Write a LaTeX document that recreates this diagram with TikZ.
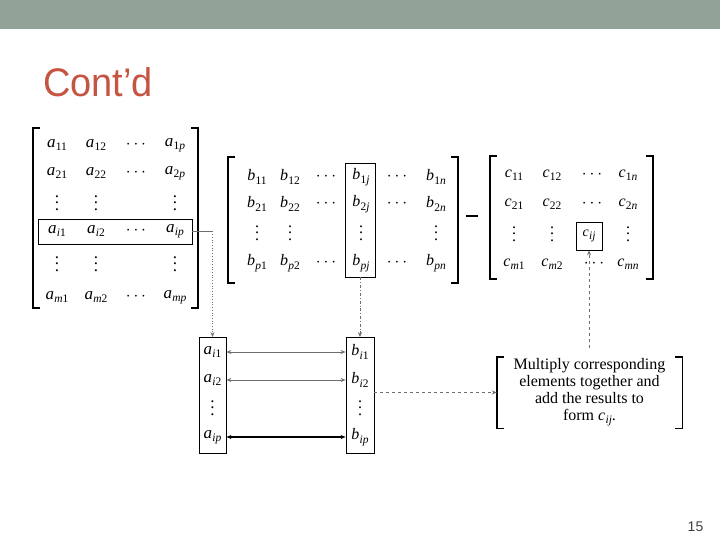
\documentclass[tikz,border=0pt]{standalone}
\usepackage{fontspec}
\setmainfont{Liberation Serif}
\newfontfamily\titlefont{Liberation Sans}
\usetikzlibrary{arrows.meta}
\definecolor{barcol}{RGB}{147,162,152}
\definecolor{titlecol}{RGB}{197,84,66}
\definecolor{numcol}{RGB}{64,64,64}
\definecolor{conncol}{RGB}{110,110,110}
\newcommand\ent[2]{\textit{#1}\kern0.3pt\raisebox{-3.5pt}{\fontsize{11.5}{12}\selectfont#2}}
\newcommand\myvdots{\vbox{\baselineskip6.5pt\lineskiplimit0pt\hbox{.}\hbox{.}\hbox{.}}}
\newcommand\mbrk[4]{%
  \draw[brk] (#1+7,#3) -- (#1,#3) -- (#1,#4) -- (#1+7,#4);
  \draw[brk] (#2-7,#3) -- (#2,#3) -- (#2,#4) -- (#2-7,#4);}
\begin{document}
\begin{tikzpicture}[x=1pt,y=-1pt,
  brk/.style={line width=1.4pt},
  mA/.style={inner sep=0.5pt, font=\fontsize{17}{20}\selectfont},
  mB/.style={inner sep=0.5pt, font=\fontsize{16}{19}\selectfont},
  boxstyle/.style={draw, line width=0.8pt, inner sep=0},
  conn/.style={draw=conncol, line width=0.7pt},
  tip/.style={-{Stealth[length=5pt,width=4pt]}},
  pair/.style={draw=conncol, line width=0.8pt, {Stealth[length=5pt,width=4pt]}-{Stealth[length=5pt,width=4pt]}}]
\useasboundingbox (0,0) rectangle (720,540);
\fill[barcol] (0,0) rectangle (720,29);
\node[anchor=base west, inner sep=0, text=titlecol, font=\titlefont\fontsize{38}{40}\selectfont] (title) at (43,97) {\scalebox{1}[1.05]{Cont’d}};
\node[font=\titlefont\fontsize{14}{16}\selectfont, text=numcol] (pnum) at (695.5,527) {15};

% ---------- matrix A ----------
\mbrk{33}{198}{128}{308}
\node[mA] (a11) at (57,145) {\ent{a}{11}};
\node[mA] (a12) at (96,145) {\ent{a}{12}};
\node[mA] (a1d) at (136,145) {$\cdots$};
\node[mA] (a1p) at (175,145) {\ent{a}{1\textit{p}}};
\node[mA] (a21) at (57,173) {\ent{a}{21}};
\node[mA] (a22) at (96,173) {\ent{a}{22}};
\node[mA] (a2d) at (136,173) {$\cdots$};
\node[mA] (a2p) at (175,173) {\ent{a}{2\textit{p}}};
\node[mA] (av1) at (57,203) {\myvdots};
\node[mA] (av2) at (96,203) {\myvdots};
\node[mA] (av3) at (175,203) {\myvdots};
\node[mA] (ai1r) at (57,231) {\ent{a}{\textit{i}1}};
\node[mA] (ai2r) at (96,231) {\ent{a}{\textit{i}2}};
\node[mA] (aidr) at (136,231) {$\cdots$};
\node[mA] (aipr) at (175,231) {\ent{a}{\textit{ip}}};
\node[mA] (aw1) at (57,264) {\myvdots};
\node[mA] (aw2) at (96,264) {\myvdots};
\node[mA] (aw3) at (175,264) {\myvdots};
\node[mA] (am1) at (57,297) {\ent{a}{\textit{m}1}};
\node[mA] (am2) at (96,297) {\ent{a}{\textit{m}2}};
\node[mA] (amd) at (136,297) {$\cdots$};
\node[mA] (amp) at (175,297) {\ent{a}{\textit{mp}}};
\node[boxstyle, minimum width=154pt, minimum height=25pt] (rowbox) at (115,231.5) {};

% ---------- matrix B ----------
\mbrk{228}{458}{157}{283}
\node[mB] (b11) at (257,177) {\ent{b}{11}};
\node[mB] (b12) at (290,177) {\ent{b}{12}};
\node[mB] (b1d) at (326,177) {$\cdots$};
\node[mB] (b1j) at (361,177) {\ent{b}{1\textit{j}}};
\node[mB] (b1e) at (397,177) {$\cdots$};
\node[mB] (b1n) at (436,177) {\ent{b}{1\textit{n}}};
\node[mB] (b21) at (257,204) {\ent{b}{21}};
\node[mB] (b22) at (290,204) {\ent{b}{22}};
\node[mB] (b2d) at (326,204) {$\cdots$};
\node[mB] (b2j) at (361,204) {\ent{b}{2\textit{j}}};
\node[mB] (b2e) at (397,204) {$\cdots$};
\node[mB] (b2n) at (436,204) {\ent{b}{2\textit{n}}};
\node[mB] (bv1) at (257,233) {\myvdots};
\node[mB] (bv2) at (290,233) {\myvdots};
\node[mB] (bv3) at (361,233) {\myvdots};
\node[mB] (bv4) at (436,233) {\myvdots};
\node[mB] (bp1) at (257,263) {\ent{b}{\textit{p}1}};
\node[mB] (bp2) at (290,263) {\ent{b}{\textit{p}2}};
\node[mB] (bpd) at (326,263) {$\cdots$};
\node[mB] (bpj) at (361,263) {\ent{b}{\textit{pj}}};
\node[mB] (bpe) at (397,263) {$\cdots$};
\node[mB] (bpn) at (436,263) {\ent{b}{\textit{pn}}};
\node[boxstyle, minimum width=30pt, minimum height=114pt] (bcolbox) at (360,220) {};

\draw[line width=1.5pt] (466,216) -- (478,216);

% ---------- matrix C ----------
\mbrk{490}{653}{156}{279}
\node[mB] (c11) at (514,175) {\ent{c}{11}};
\node[mB] (c12) at (552,175) {\ent{c}{12}};
\node[mB] (c1d) at (592,175) {$\cdots$};
\node[mB] (c1n) at (628,175) {\ent{c}{1\textit{n}}};
\node[mB] (c21) at (514,204) {\ent{c}{21}};
\node[mB] (c22) at (552,204) {\ent{c}{22}};
\node[mB] (c2d) at (592,204) {$\cdots$};
\node[mB] (c2n) at (628,204) {\ent{c}{2\textit{n}}};
\node[mB] (cv1) at (514,234) {\myvdots};
\node[mB] (cv2) at (552,234) {\myvdots};
\node[mB] (cv4) at (628,234) {\myvdots};
\node[boxstyle, minimum width=26pt, minimum height=28pt, font=\fontsize{14}{16}\selectfont] (cbox) at (589,236) {\ent{c}{\textit{ij}}};
\node[mB] (cm1) at (514,264) {\ent{c}{\textit{m}1}};
\node[mB] (cm2) at (552,264) {\ent{c}{\textit{m}2}};
\node[mB] (cmd) at (594,264) {$\cdots$};
\node[mB] (cmn) at (628,264) {\ent{c}{\textit{mn}}};

% ---------- lower columns ----------
\node[boxstyle, minimum width=27pt, minimum height=116pt] (acol) at (212.5,395.5) {};
\node[boxstyle, minimum width=28pt, minimum height=116pt] (bcol) at (360,395.5) {};
\node[mA] (ai1) at (212.5,352) {\ent{a}{\textit{i}1}};
\node[mA] (ai2) at (212.5,380) {\ent{a}{\textit{i}2}};
\node[mA] (aiv) at (212.5,408) {\myvdots};
\node[mA] (aip) at (212.5,437) {\ent{a}{\textit{ip}}};
\node[mB] (bi1) at (360,352) {\ent{b}{\textit{i}1}};
\node[mB] (bi2) at (360,380) {\ent{b}{\textit{i}2}};
\node[mB] (biv) at (360,408) {\myvdots};
\node[mB] (bip) at (360,437) {\ent{b}{\textit{ip}}};
\draw[pair] (acol.east |- ai1) -- (bcol.west |- bi1);
\draw[pair] (acol.east |- ai2) -- (bcol.west |- bi2);
\draw[pair, draw=black, line width=1.1pt] (acol.east |- aip) -- (bcol.west |- bip);

% ---------- note ----------
\node[minimum width=185pt, minimum height=71pt, inner sep=0, align=center, font=\fontsize{16}{16.8}\selectfont] (note) at (589.5,392.5) {Multiply corresponding\\elements together and\\add the results to\\form \ent{c}{\textit{ij}}.};
\draw[brk] ([xshift=7pt]note.north west) -- (note.north west) -- (note.south west) -- ([xshift=7pt]note.south west);
\draw[brk] ([xshift=-7pt]note.north east) -- (note.north east) -- (note.south east) -- ([xshift=-7pt]note.south east);

% ---------- connectors ----------
\coordinate (k1) at (rowbox.east -| acol.north);
\draw[conn] (rowbox.east) -- (k1);
\draw[conn, dotted, tip] (k1) -- (acol.north);
\draw[conn, dash dot, tip] (bcolbox.south) -- (bcol.north);
\coordinate (cfoot) at (589,348);
\draw[conn, dashed, tip] (cfoot) -- (cbox.south);
\draw[conn, dashed, tip] (bcol.east |- note.west) -- (note.west);
\end{tikzpicture}
\end{document}
